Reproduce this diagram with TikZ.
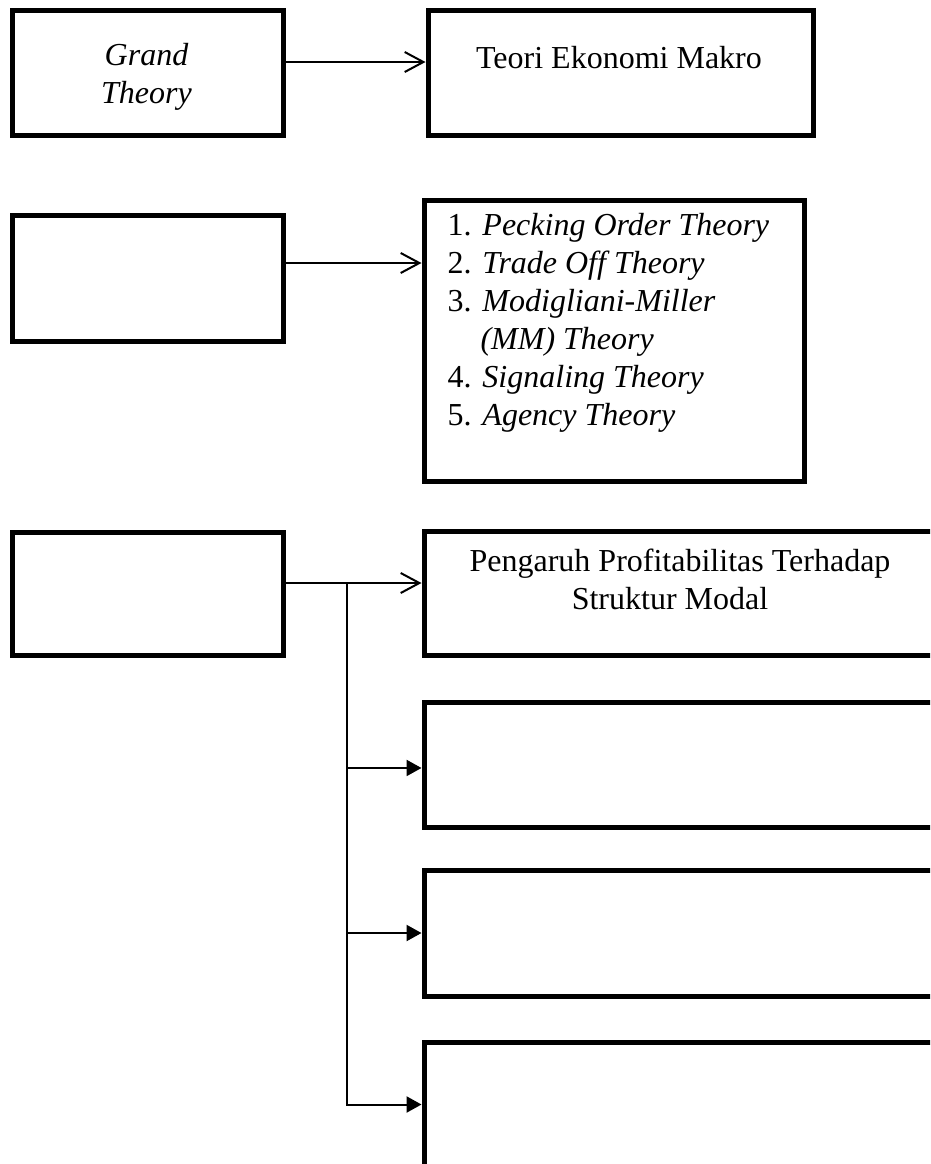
\documentclass[tikz,border=0pt]{standalone}
\usepackage{fontspec}
\setmainfont{Liberation Serif}
\usetikzlibrary{arrows.meta}
\begin{document}
\begin{tikzpicture}[x=0.375pt,y=-0.375pt,
  box/.style={draw, line width=1.875pt, rectangle, inner sep=0pt},
  conn/.style={line width=0.75pt},
  openarr/.style={conn, -{Straight Barb[length=7pt,width=7.5pt]}},
  fillarr/.style={conn, -{Triangle[length=5.6pt,width=6pt]}},
  txt/.style={anchor=base, inner sep=0pt, font=\fontsize{12pt}{14.25pt}\selectfont},
  lst/.style={anchor=base west, inner sep=0pt, font=\fontsize{12pt}{14.25pt}\selectfont}]
\useasboundingbox (0,0) rectangle (930,1164);
\begin{scope}
\clip (0,0) rectangle (930,1164);
% left boxes
\node[box, minimum width=101.625pt, minimum height=46.69pt] (b1) at (147.5,72.75) {};
\node[box, minimum width=101.625pt, minimum height=47.25pt] (b3) at (147.5,278) {};
\node[box, minimum width=101.625pt, minimum height=45.94pt] (b5) at (147.5,593.75) {};
% right boxes
\node[box, minimum width=144.375pt, minimum height=46.69pt] (b2) at (620.5,72.75) {};
\node[box, minimum width=142.5pt, minimum height=105.375pt] (b4) at (614,340.5) {};
\node[box, minimum width=216pt, minimum height=46.5pt] (b6) at (712,593) {};
\node[box, minimum width=216pt, minimum height=46.875pt] (b7) at (712,764.5) {};
\node[box, minimum width=216pt, minimum height=47.25pt] (b8) at (712,933) {};
\node[box, minimum width=216pt, minimum height=46.875pt] (b9) at (712,1104.5) {};
\end{scope}
% texts
\node[txt, font=\fontsize{12pt}{14.25pt}\selectfont\itshape] (g1) at (146.5,65) {Grand};
\node[txt, font=\fontsize{12pt}{14.25pt}\selectfont\itshape] (g2) at (146.5,103) {Theory};
\node[txt] (tm) at (619,68) {Teori Ekonomi Makro};
\node[lst] (l1) at (447,235) {\makebox[13.1pt][l]{1.}\textit{Pecking Order Theory}};
\node[lst] (l2) at (447,273) {\makebox[13.1pt][l]{2.}\textit{Trade Off Theory}};
\node[lst] (l3) at (447,311) {\makebox[13.1pt][l]{3.}\textit{Modigliani-Miller}};
\node[lst] (l3b) at (480,349) {\textit{(MM) Theory}};
\node[lst] (l4) at (447,387) {\makebox[13.1pt][l]{4.}\textit{Signaling Theory}};
\node[lst] (l5) at (447,425) {\makebox[13.1pt][l]{5.}\textit{Agency Theory}};
\node[txt] (p1) at (680,571) {Pengaruh Profitabilitas Terhadap};
\node[txt] (p2) at (670,609) {Struktur Modal};
% connectors
\coordinate (s1) at ([yshift=4.03pt]b1.east);
\draw[openarr] (s1) -- (s1 -| b2.west);
\coordinate (s2) at ([yshift=5.625pt]b3.east);
\draw[openarr] (s2) -- (s2 -| b4.west);
\coordinate (s3) at ([yshift=4.03pt]b5.east);
\draw[openarr] (s3) -- (s3 -| b6.west);
\coordinate (br) at (347,583);
\draw[fillarr] (br) |- (b9.west);
\coordinate (s7) at ([yshift=-1.3pt]b7.west);
\draw[fillarr] (s7 -| br) -- (s7);
\draw[fillarr] (b8.west -| br) -- (b8.west);
\end{tikzpicture}
\end{document}
